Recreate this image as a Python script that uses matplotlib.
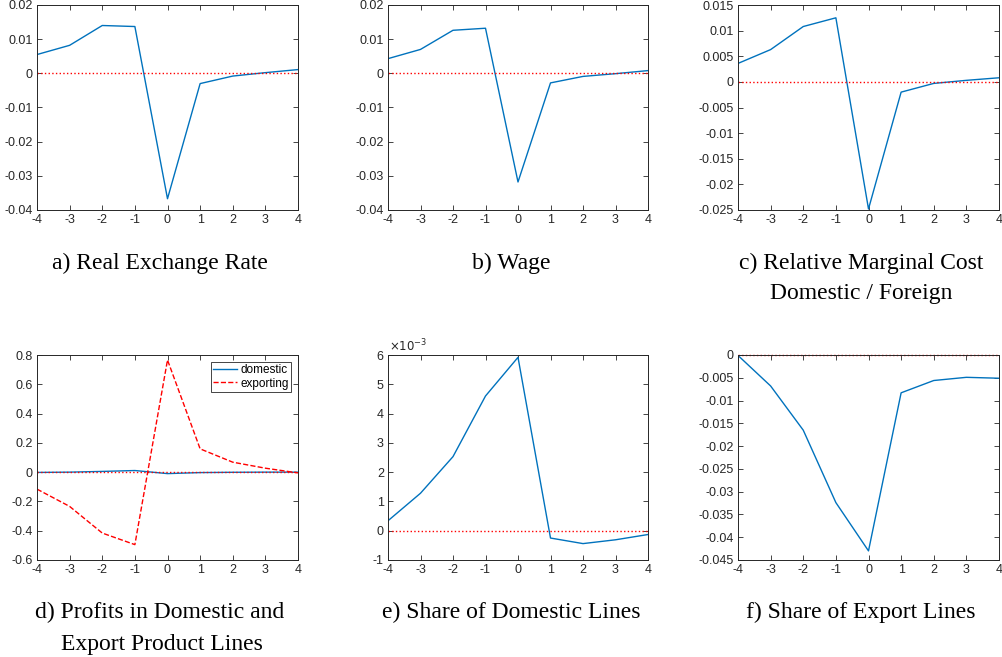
import matplotlib
matplotlib.use('Agg')
import matplotlib.pyplot as plt
from matplotlib.ticker import FuncFormatter, MultipleLocator

plt.rcParams['font.family'] = ['Liberation Sans', 'DejaVu Sans']
plt.rcParams['axes.unicode_minus'] = False

# horizon (periods around the shock)
periods = [-4, -3, -2, -1, 0, 1, 2, 3, 4]
zeros = [0] * len(periods)

# responses
real_exchange_rate = [0.0055, 0.0082, 0.0140, 0.0137, -0.0367, -0.0030, -0.0008, 0.0002, 0.0011]
wage = [0.0043, 0.0070, 0.0126, 0.0132, -0.0318, -0.0028, -0.0009, -0.0001, 0.0008]
rel_marginal_cost = [0.0036, 0.0063, 0.0108, 0.0125, -0.0248, -0.0020, -0.0003, 0.0003, 0.0008]
profits_domestic = [-0.002, 0.000, 0.005, 0.011, -0.010, -0.003, -0.001, 0.000, 0.000]
profits_exporting = [-0.116, -0.234, -0.416, -0.495, 0.766, 0.159, 0.068, 0.027, -0.005]
share_domestic = [0.00034, 0.00128, 0.00253, 0.00460, 0.00592, -0.00025, -0.00044, -0.00031, -0.00013]
share_export = [-0.0001, -0.0068, -0.0165, -0.0324, -0.0430, -0.0083, -0.0056, -0.0049, -0.0051]

captions = ['a) Real Exchange Rate', 'b) Wage', 'c) Relative Marginal Cost',
            'd) Profits in Domestic and', 'e) Share of Domestic Lines', 'f) Share of Export Lines']
caption_c2 = 'Domestic / Foreign'
caption_d2 = 'Export Product Lines'

W, H = 1002, 657
fig = plt.figure(figsize=(W / 100, H / 100), dpi=100)

DARK = '#262626'
BLUE = '#0072BD'


def px_axes(left, top, right, bottom):
    return fig.add_axes([left / W, 1 - bottom / H, (right - left) / W, (bottom - top) / H])


def fmt(v, pos):
    v = round(v, 10)
    if v == 0:
        return '0'
    return f'{v:g}'


def style(ax, ylo, yhi, step, scale=1.0):
    ax.set_xlim(-4, 4)
    ax.set_ylim(ylo, yhi)
    ax.xaxis.set_major_locator(MultipleLocator(1))
    ax.yaxis.set_major_locator(MultipleLocator(step))
    ax.yaxis.set_major_formatter(FuncFormatter(lambda v, p: fmt(v * scale, p)))
    ax.tick_params(direction='in', top=True, right=True, length=3.5, width=0.6,
                   colors=DARK, labelsize=9, pad=3)
    for s in ax.spines.values():
        s.set_linewidth(0.7)
        s.set_color(DARK)


cols = [(37, 298), (388, 648), (738, 999)]
rows = [(5, 210), (355, 560)]

axs = []
for r in rows:
    for c in cols:
        axs.append(px_axes(c[0], r[0], c[1], r[1]))

# a) real exchange rate
ax = axs[0]
ax.plot(periods, real_exchange_rate, color=BLUE, lw=1)
ax.plot(periods, zeros, 'r:', lw=1)
style(ax, -0.04, 0.02, 0.01)

# b) wage
ax = axs[1]
ax.plot(periods, wage, color=BLUE, lw=1)
ax.plot(periods, zeros, 'r:', lw=1)
style(ax, -0.04, 0.02, 0.01)

# c) relative marginal cost
ax = axs[2]
ax.plot(periods, rel_marginal_cost, color=BLUE, lw=1)
ax.plot(periods, zeros, 'r:', lw=1)
style(ax, -0.025, 0.015, 0.005)

# d) profits
ax = axs[3]
ax.plot(periods, profits_domestic, color=BLUE, lw=1, label='domestic')
ax.plot(periods, profits_exporting, 'r--', lw=1, label='exporting')
ax.plot(periods, zeros, 'r:', lw=1)
style(ax, -0.6, 0.8, 0.2)
leg = ax.legend(loc='upper right', fontsize=8.5, fancybox=False, edgecolor=DARK,
                framealpha=1, handlelength=2.0, handletextpad=0.3,
                labelspacing=0.1, borderpad=0.2, borderaxespad=0.6)
leg.get_frame().set_linewidth(0.6)

# e) share of domestic lines
ax = axs[4]
ax.plot(periods, share_domestic, color=BLUE, lw=1)
ax.plot(periods, zeros, 'r:', lw=1)
style(ax, -0.001, 0.006, 0.001, scale=1000)
ax.text(0.005, 1.005, r'$\times10^{-3}$', transform=ax.transAxes, ha='left', va='bottom',
        fontsize=8.5, color=DARK)

# f) share of export lines
ax = axs[5]
ax.plot(periods, share_export, color=BLUE, lw=1)
ax.plot(periods, zeros, 'r:', lw=1, clip_on=False)
style(ax, -0.045, 0.0, 0.005)

# captions
cap_font = dict(family='Liberation Serif', fontsize=17, color='black')
centers = [160, 511, 861]
for i in range(3):
    fig.text(centers[i] / W, 1 - 269 / H, captions[i], ha='center', va='baseline', **cap_font)
fig.text(centers[2] / W, 1 - 299 / H, caption_c2, ha='center', va='baseline', **cap_font)

texts_row2 = []
for i in range(3):
    texts_row2.append(fig.text(centers[i] / W, 1 - 618 / H, captions[3 + i],
                               ha='center', va='baseline', **cap_font))

# hanging indent for second line of caption d
renderer = fig.canvas.get_renderer()
bb = texts_row2[0].get_window_extent(renderer)
tmp = fig.text(0, 0, 'd) ', **cap_font)
indent = tmp.get_window_extent(renderer).width
tmp.remove()
fig.text((bb.x0 + indent) / W, 1 - 650 / H, caption_d2, ha='left', va='baseline', **cap_font)

fig.savefig('out.png', dpi=100)
